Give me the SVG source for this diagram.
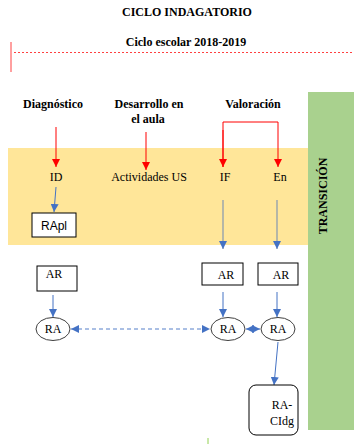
<svg xmlns="http://www.w3.org/2000/svg" width="354" height="444" viewBox="0 0 354 444">
  <style>
    .title { font-family: 'Liberation Serif', 'Times New Roman', Times, serif; font-weight: bold; font-size: 12px; fill: #000; text-anchor: middle; }
    .lbl { font-family: 'Liberation Serif', 'Times New Roman', Times, serif; font-size: 12px; fill: #000; text-anchor: middle; }
    .sans { font-family: 'Liberation Sans', Arial, sans-serif; font-size: 12px; fill: #000; text-anchor: middle; }
    .box { fill: #fff; stroke: #000; stroke-width: 1; }
    .oval { fill: #fff; stroke: #404040; stroke-width: 1; }
    .red { stroke: #ff0000; stroke-width: 1; fill: none; }
    .blue { stroke: #4472c4; stroke-width: 1; fill: none; }
    .grey { stroke: #8497b0; stroke-width: 1.2; fill: none; }
    .dash { stroke: #8faadc; stroke-width: 1.5; fill: none; stroke-dasharray: 4 3; }
  </style>
  <defs>
    <marker id="arRed" viewBox="0 0 10 10" refX="10" refY="5" markerWidth="8" markerHeight="8" markerUnits="userSpaceOnUse" orient="auto">
      <path d="M0,0 L10,5 L0,10 z" fill="#ff0000"/>
    </marker>
    <marker id="arBlue" viewBox="0 0 10 10" refX="10" refY="5" markerWidth="8" markerHeight="8" markerUnits="userSpaceOnUse" orient="auto">
      <path d="M0,0 L10,5 L0,10 z" fill="#4472c4"/>
    </marker>
    <marker id="arBlueS" viewBox="0 0 10 10" refX="10" refY="5" markerWidth="8" markerHeight="8" markerUnits="userSpaceOnUse" orient="auto-start-reverse">
      <path d="M0,0 L10,5 L0,10 z" fill="#4472c4"/>
    </marker>
  </defs>

  <!-- background bands -->
  <rect x="8" y="148" width="300" height="97" fill="#ffe699"/>
  <rect x="308" y="92" width="46" height="338" fill="#a9d18e"/>
  <line x1="208" y1="438" x2="208" y2="444" stroke="#92d050" stroke-width="1"/>

  <!-- headings -->
  <g font-family="Liberation Serif, Times New Roman, serif">
    <text class="title" x="187" y="16">CICLO INDAGATORIO</text>
    <text class="title" x="186" y="46">Ciclo escolar 2018-2019</text>
    <text class="title" x="53" y="108">Diagnóstico</text>
    <text class="title" x="149" y="108">Desarrollo en</text>
    <text class="title" x="148" y="123">el aula</text>
    <text class="title" x="253" y="108">Valoración</text>
    <text class="title" x="0" y="0" transform="translate(327,196) rotate(-90)">TRANSICIÓN</text>
  </g>
  <line x1="11" y1="42" x2="11" y2="72" stroke="#ff4040" stroke-width="1"/>
  <line x1="14" y1="52.5" x2="354" y2="52.5" stroke="#ff4040" stroke-width="1" stroke-dasharray="2 2"/>

  <!-- connectors -->
  <g id="connectors">
    <line class="red" x1="56" y1="127" x2="56" y2="167" marker-end="url(#arRed)"/>
    <line class="red" x1="146" y1="132" x2="146" y2="170" marker-end="url(#arRed)"/>
    <path class="red" d="M223,167 V122 H278 V167" marker-end="url(#arRed)"/>
    <line class="red" x1="223" y1="130" x2="223" y2="167" marker-end="url(#arRed)"/>
    <line class="blue" x1="56" y1="187" x2="54" y2="212" marker-end="url(#arBlue)"/>
    <line class="grey" x1="223" y1="200" x2="223" y2="249" marker-end="url(#arBlue)"/>
    <line class="grey" x1="277" y1="200" x2="277" y2="249" marker-end="url(#arBlue)"/>
    <line class="blue" x1="53" y1="295" x2="53" y2="317" marker-end="url(#arBlue)"/>
    <line class="blue" x1="223" y1="292" x2="223" y2="317" marker-end="url(#arBlue)"/>
    <line class="blue" x1="277" y1="292" x2="277" y2="317" marker-end="url(#arBlue)"/>
    <line class="dash" x1="71" y1="329" x2="210" y2="329" marker-start="url(#arBlueS)" marker-end="url(#arBlueS)"/>
    <line class="blue" x1="246" y1="329" x2="260" y2="329" marker-start="url(#arBlueS)" marker-end="url(#arBlueS)"/>
    <line class="blue" x1="278" y1="342" x2="274" y2="385" marker-end="url(#arBlue)"/>
  </g>

  <!-- nodes -->
  <g id="n-id"><text class="lbl" x="56" y="181">ID</text></g>
  <g id="n-actividades"><text class="lbl" x="149" y="181">Actividades US</text></g>
  <g id="n-if"><text class="lbl" x="225" y="181">IF</text></g>
  <g id="n-en"><text class="lbl" x="280" y="181">En</text></g>

  <g id="n-rapl">
    <rect class="box" x="32" y="213" width="44" height="24"/>
    <text class="sans" x="54" y="230">RApl</text>
  </g>

  <g id="n-ar1">
    <rect class="box" x="37" y="266" width="40" height="25"/>
    <text class="lbl" x="54" y="278">AR</text>
  </g>
  <g id="n-ar2">
    <rect class="box" x="202" y="263" width="41" height="22"/>
    <text class="lbl" x="226" y="279">AR</text>
  </g>
  <g id="n-ar3">
    <rect class="box" x="258" y="263" width="40" height="22"/>
    <text class="lbl" x="281" y="279">AR</text>
  </g>

  <g id="n-ra1">
    <ellipse class="oval" cx="53" cy="329" rx="17" ry="11.5"/>
    <text class="lbl" x="53" y="333">RA</text>
  </g>
  <g id="n-ra2">
    <ellipse class="oval" cx="228" cy="329" rx="17" ry="11.5"/>
    <text class="lbl" x="228" y="333">RA</text>
  </g>
  <g id="n-ra3">
    <ellipse class="oval" cx="278" cy="329" rx="17" ry="11.5"/>
    <text class="lbl" x="278" y="333">RA</text>
  </g>

  <g id="n-racidg">
    <rect class="box" x="249" y="385" width="49" height="50" rx="7"/>
    <text class="lbl" x="282" y="409">RA-</text>
    <text class="lbl" x="282" y="425">CIdg</text>
  </g>
</svg>
